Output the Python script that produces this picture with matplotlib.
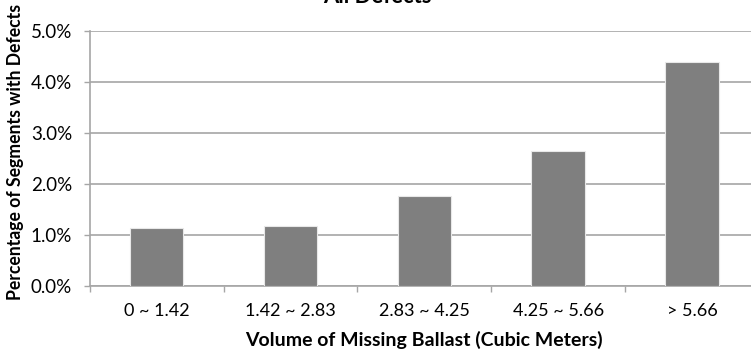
import numpy as np
import matplotlib.pyplot as plt
from matplotlib.ticker import FixedLocator, PercentFormatter

plt.rcParams["font.family"] = ["Lato", "DejaVu Sans"]

categories = ["0 ~ 1.42", "1.42 ~ 2.83", "2.83 ~ 4.25", "4.25 ~ 5.66", "> 5.66"]
defect_pct = [1.13, 1.17, 1.77, 2.64, 4.40]
y_ticks = [0, 1, 2, 3, 4, 5]

fig = plt.figure(figsize=(7.51, 3.52), dpi=100)
# plot area runs slightly past the right edge of the canvas
ax = fig.add_axes([89.6 / 751, 66 / 352, 669.5 / 751, 255 / 352])

x = np.arange(len(categories))
ax.bar(x, defect_pct, width=0.4, color="#7f7f7f", edgecolor="#e8e8e8",
       linewidth=0.8, zorder=3)

ax.set_xlim(-0.5, len(categories) - 0.5)
ax.set_ylim(0, 5)
ax.set_yticks(y_ticks)
ax.yaxis.set_major_formatter(PercentFormatter(decimals=1))
ax.grid(axis="y", color="#a6a6a6", linewidth=1.2, zorder=0)

ax.set_xticks(x)
ax.set_xticklabels(categories)
ax.xaxis.set_minor_locator(FixedLocator(np.arange(-0.5, len(categories), 1.0)))
ax.tick_params(axis="x", which="major", length=0, pad=12, labelsize=13, colors="#000000")
ax.tick_params(axis="x", which="minor", length=4.5, width=1, color="#a6a6a6")
ax.tick_params(axis="y", length=4.5, width=1, color="#a6a6a6", pad=8, labelsize=13.5)

for side in ("top", "right"):
    ax.spines[side].set_visible(False)
for side in ("left", "bottom"):
    ax.spines[side].set_color("#a6a6a6")
    ax.spines[side].set_linewidth(1.2)

ax.set_xlabel("Volume of Missing Ballast (Cubic Meters)", fontsize=14,
              fontweight="bold", labelpad=9)
fig.text(16 / 751, 1 - 152 / 352, "Percentage of Segments with Defects", rotation=90,
         ha="center", va="center", fontsize=12.7, fontweight="bold")
# chart title sits mostly above the canvas edge
fig.text(377 / 751, 1 - 3 / 352, "All Defects", ha="center", va="baseline",
         fontsize=15.8, fontweight="bold")

fig.savefig("out.png", dpi=100)
